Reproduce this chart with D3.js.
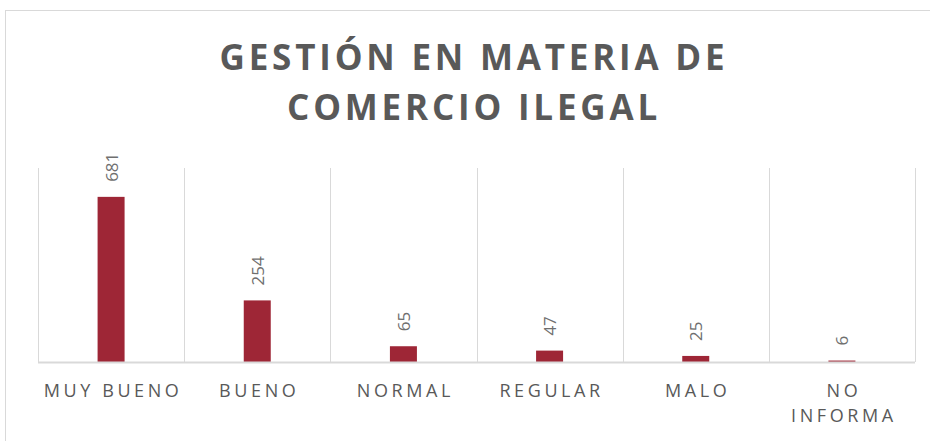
<!DOCTYPE html>
<html>
<head>
<meta charset="utf-8">
<script src="https://cdn.jsdelivr.net/npm/d3@7"></script>
<style>
  body { margin: 0; background: #fff; }
  text { font-family: "Open Sans", "Noto Sans", sans-serif; }
</style>
</head>
<body>
<div id="chart"></div>
<script>
var categories = ["MUY BUENO", "BUENO", "NORMAL", "REGULAR", "MALO", "NO INFORMA"];
var values = [681, 254, 65, 47, 25, 6];
var titleLines = ["GESTIÓN EN MATERIA DE", "COMERCIO ILEGAL"];

var width = 930, height = 441;
var margin = { top: 168, right: 15, bottom: 79, left: 38 };
var innerW = width - margin.left - margin.right;
var innerH = height - margin.top - margin.bottom;

var svg = d3.select("#chart").append("svg")
    .attr("width", width)
    .attr("height", height);

// outer frame
svg.append("rect")
    .attr("x", 5.5).attr("y", 10.5)
    .attr("width", 940).attr("height", 460)
    .attr("fill", "none")
    .attr("stroke", "#d9d9d9");

svg.append("g").selectAll("text")
    .data(titleLines)
    .enter().append("text")
    .attr("x", width / 2 + 9)
    .attr("y", function (d, i) { return 70 + i * 50; })
    .attr("text-anchor", "middle")
    .attr("font-size", 35)
    .attr("font-weight", "bold")
    .attr("letter-spacing", 3.8)
    .attr("fill", "#595959")
    .text(function (d) { return d; });

var g = svg.append("g")
    .attr("transform", "translate(" + margin.left + "," + margin.top + ")");

var x = d3.scaleBand().domain(categories).range([0, innerW]);
var y = d3.scaleLinear().domain([0, 800]).range([innerH, 0]);

// vertical separators between categories
var edges = categories.map(function (d) { return x(d); }).concat([innerW]);
g.append("g").selectAll("line")
    .data(edges)
    .enter().append("line")
    .attr("x1", function (d) { return Math.round(d) + 0.5; })
    .attr("x2", function (d) { return Math.round(d) + 0.5; })
    .attr("y1", 0)
    .attr("y2", innerH)
    .attr("stroke", "#d9d9d9")
    .attr("stroke-width", 1);

var barW = 27;
g.append("g").selectAll("rect")
    .data(values)
    .enter().append("rect")
    .attr("x", function (d, i) { return x(categories[i]) + x.bandwidth() / 2 - barW / 2; })
    .attr("y", function (d) { return y(d); })
    .attr("width", barW)
    .attr("height", function (d) { return innerH - y(d); })
    .attr("fill", "#9e2636");

// baseline
g.append("line")
    .attr("x1", 0).attr("x2", innerW)
    .attr("y1", innerH + 0.5).attr("y2", innerH + 0.5)
    .attr("stroke", "#d9d9d9")
    .attr("stroke-width", 2);

// rotated value labels
g.append("g").selectAll("text")
    .data(values)
    .enter().append("text")
    .attr("transform", function (d, i) {
        var cx = x(categories[i]) + x.bandwidth() / 2 + 6.5;
        return "translate(" + cx + "," + (y(d) - 15) + ") rotate(-90)";
    })
    .attr("font-size", 17)
    .attr("fill", "#6f6f6f")
    .text(function (d) { return d; });

// category labels, wrapped when wider than the band
var labelG = g.append("g").selectAll("text")
    .data(categories)
    .enter().append("text")
    .attr("text-anchor", "middle")
    .attr("font-size", 18)
    .attr("letter-spacing", 3.6)
    .attr("fill", "#595959")
    .attr("transform", function (d) {
        return "translate(" + (x(d) + x.bandwidth() / 2 + 2) + "," + (innerH + 35) + ")";
    });

labelG.each(function (d) {
    var t = d3.select(this);
    t.text(d);
    if (this.getComputedTextLength() > x.bandwidth() + 2) {
        t.text(null);
        d.split(" ").forEach(function (w, k) {
            t.append("tspan").attr("x", 0).attr("dy", k === 0 ? 0 : 25).text(w);
        });
    }
});
</script>
</body>
</html>
